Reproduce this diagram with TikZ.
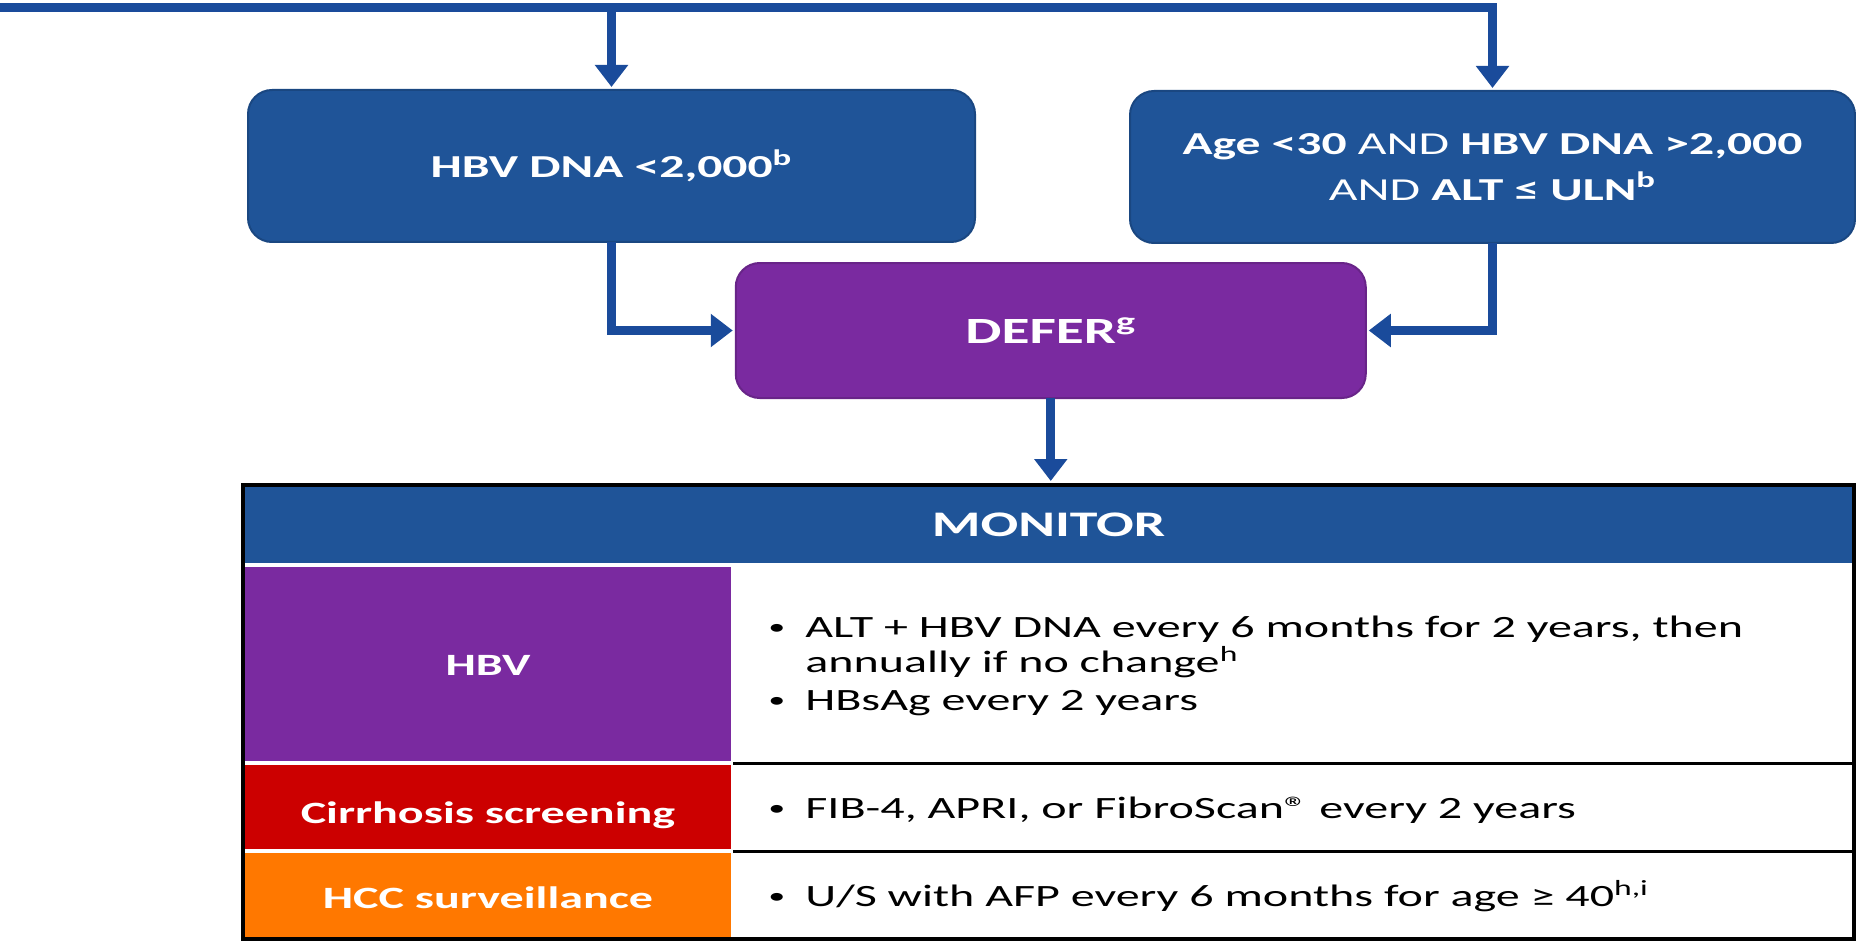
\documentclass[tikz,border=0pt]{standalone}
\usepackage{fontspec}
\setmainfont{Carlito}[FakeStretch=1.55]
\usetikzlibrary{arrows.meta}
\definecolor{boxblue}{HTML}{1F5498}
\definecolor{arrowblue}{HTML}{1A4B9B}
\definecolor{defpurple}{HTML}{7A2AA0}
\definecolor{cirred}{HTML}{CC0000}
\definecolor{hccorange}{HTML}{FF7800}
\newcommand{\mybul}{\llap{\raisebox{1.2pt}{\fontsize{11}{11}\selectfont•}\hspace{10pt}}}
\begin{document}
\begin{tikzpicture}[x=0.5pt,y=-0.5pt,
  conn/.style={draw=arrowblue, line width=4.5pt, -{Triangle[length=11pt,width=16pt]}, shorten >=1.5pt},
  flowbox/.style={rectangle, rounded corners=12pt, line width=1pt, inner sep=0pt, outer sep=0pt, text=white, align=center},
  bluebox/.style={flowbox, fill=boxblue, draw=boxblue!85!black, font=\fontsize{16}{23}\selectfont},
  cell/.style={rectangle, inner sep=0pt, outer sep=0pt},
  celllabel/.style={anchor=base, inner sep=0pt, text=white, font=\fontsize{15.5}{19}\selectfont\bfseries},
  bodytext/.style={anchor=base west, inner sep=0pt, font=\fontsize{15.5}{19}\selectfont, text=black},
  sepline/.style={line width=1.5pt, black}
]
\useasboundingbox (0,0) rectangle (1856,941);

% decision boxes
\node[bluebox, minimum width=363.5pt, minimum height=76pt] (hbvlow) at (611.5,166) {\textbf{HBV DNA <2,000\textsuperscript{b}}};
\node[bluebox, minimum width=362.5pt, minimum height=76pt] (agebox) at (1492.5,167) {\textbf{Age <30} AND \textbf{HBV DNA >2,000}\\AND \textbf{ALT ≤ ULN\textsuperscript{b}}};
\node[flowbox, fill=defpurple, draw=defpurple!85!black, minimum width=315pt, minimum height=67.5pt, font=\fontsize{18.5}{22}\selectfont\bfseries] (defer) at (1050.75,330.5) {DEFER\textsuperscript{g}};

% connectors
\coordinate (start) at (0,8);
\draw[conn] (start) -| (agebox.north);
\draw[conn] (hbvlow.north |- start) -- (hbvlow.north);
\draw[conn] (hbvlow.south) |- (defer.west);
\draw[conn] (agebox.south) |- (defer.east);

% table
\node[cell, draw=black, line width=2pt, fill=white, minimum width=805.5pt, minimum height=227pt] (frame) at (1048.5,712) {};
\draw[conn, shorten >=2pt] (defer.south) -- (defer.south |- frame.north);
\node[cell, fill=boxblue, minimum width=803.5pt, minimum height=38pt, text=white, font=\fontsize{18}{22}\selectfont\bfseries] (monitor) at (1048.5,525) {MONITOR};

\node[cell, fill=defpurple, minimum width=243pt, minimum height=97pt] (hbvcell) at (488,664) {};
\node[cell, fill=cirred, minimum width=243pt, minimum height=42pt] (circell) at (488,807) {};
\node[cell, fill=hccorange, minimum width=243pt, minimum height=42pt] (hcccell) at (488,895) {};

\node[celllabel] (hbvlab) at (488,675) {HBV};
\node[celllabel] (cirlab) at (488,823) {Cirrhosis screening};
\node[celllabel] (hcclab) at (488,908) {HCC surveillance};

\draw[sepline] (733,763) -- (1852,763);
\draw[sepline] (733,851) -- (1852,851);

\node[bodytext] (l1) at (805,637) {\mybul ALT + HBV DNA every 6 months for 2 years, then};
\node[bodytext] (l2) at (805,672) {annually if no change\textsuperscript{h}};
\node[bodytext] (l3) at (805,710) {\mybul HBsAg every 2 years};
\node[bodytext] (l4) at (805,818) {\mybul FIB-4, APRI, or FibroScan® every 2 years};
\node[bodytext] (l5) at (805,906) {\mybul U/S with AFP every 6 months for age ≥ 40\textsuperscript{h,i}};
\end{tikzpicture}
\end{document}
